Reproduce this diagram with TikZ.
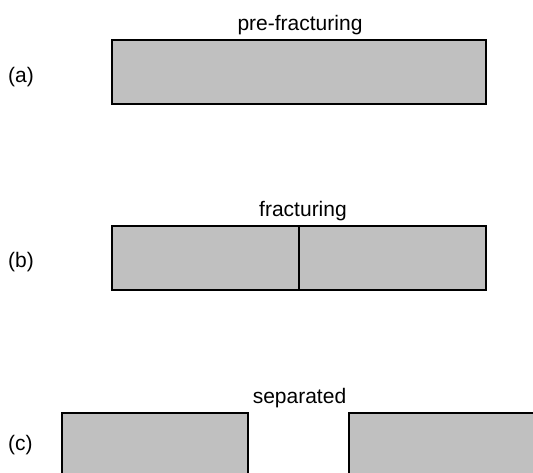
\documentclass[tikz,border=0pt]{standalone}
\usepackage{fontspec}
\setmainfont{Liberation Sans}
\begin{document}
\begin{tikzpicture}[x=1pt,y=-1pt,
  block/.style={draw=black,fill={rgb,255:red,192;green,192;blue,192},line width=2pt},
  caption/.style={font=\fontsize{21}{25}\selectfont,anchor=base,inner sep=0pt},
  tag/.style={font=\fontsize{21}{25}\selectfont,anchor=base west,inner sep=0pt}]
\useasboundingbox (0,0) rectangle (533,473);
\clip (0,0) rectangle (533,473);

% (a) intact block
\node[caption] (titleA) at (300,30.6) {pre-fracturing};
\node[tag] (tagA) at (8,82.6) {(a)};
\draw[block] (112,40.5) rectangle (486,104);

% (b) block with a crack through the middle
\node[caption] (titleB) at (303,216.6) {fracturing};
\node[tag] (tagB) at (8,267.6) {(b)};
\draw[block] (112,226) rectangle (486,290);
\draw[line width=2pt] (299,226) -- (299,290);

% (c) the two halves pulled apart
\node[caption] (titleC) at (299.5,403.6) {separated};
\node[tag] (tagC) at (8,450.6) {(c)};
\draw[block] (61.5,412.5) rectangle (248,490);
\draw[block] (349,412.5) rectangle (550,490);
\end{tikzpicture}
\end{document}
